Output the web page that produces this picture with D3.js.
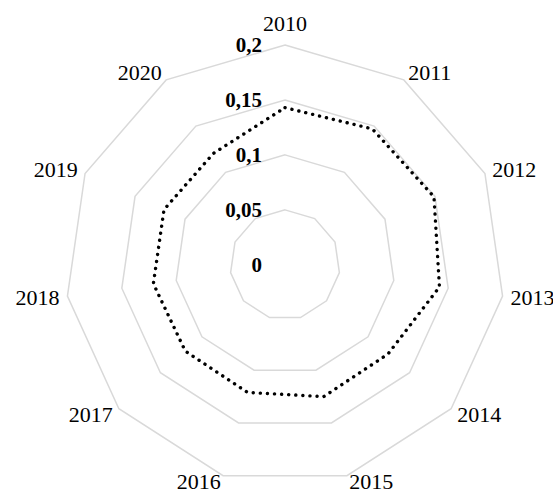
<!DOCTYPE html>
<html>
<head>
<meta charset="utf-8">
<script src="https://cdn.jsdelivr.net/npm/d3@7"></script>
<style>
  body { margin: 0; background: #fff; }
  svg { display: block; }
</style>
</head>
<body>
<script>

// data
var years = ["2010", "2011", "2012", "2013", "2014", "2015", "2016", "2017", "2018", "2019", "2020"];
var values = [0.143, 0.147, 0.149, 0.142, 0.124, 0.125, 0.121, 0.120, 0.121, 0.121, 0.1205];
var tickValues = [0, 0.05, 0.1, 0.15, 0.2];
var tickLabels = ["0", "0,05", "0,1", "0,15", "0,2"];

var width = 553, height = 494;
var cx = 285, cy = 264.8, radius = 219.8;

var svg = d3.select("body")
	.append("svg")
	.attr("width", width)
	.attr("height", height);

var rScale = d3.scaleLinear()
	.domain([0, 0.2])
	.range([0, radius]);

var angle = d3.scalePoint()
	.domain(years)
	.range([0, 2 * Math.PI * (years.length - 1) / years.length]);

var g = svg.append("g")
	.attr("transform", "translate(" + cx + "," + cy + ")");

// polar helper, angle measured clockwise from the top
function pt(a, r){
	return [r * Math.sin(a), -r * Math.cos(a)];
}

var ringLine = d3.line().curve(d3.curveLinearClosed);

// grid rings (no ring at 0)
g.selectAll(".ring")
	.data(tickValues.filter(function(v){ return v > 0; }))
	.enter()
	.append("path")
	.attr("class", "ring")
	.attr("d", function(v){
		return ringLine(years.map(function(y){ return pt(angle(y), rScale(v)); }));
	})
	.attr("fill", "none")
	.attr("stroke", "#d9d9d9")
	.attr("stroke-width", 1.5);

// data line, round dots
g.append("path")
	.datum(values)
	.attr("d", function(d){
		return ringLine(d.map(function(v, i){ return pt(angle(years[i]), rScale(v)); }));
	})
	.attr("fill", "none")
	.attr("stroke", "#000")
	.attr("stroke-width", 3.4)
	.attr("stroke-linecap", "round")
	.attr("stroke-dasharray", "0.1,7");

// value labels along the top spoke
g.selectAll(".tick")
	.data(tickValues)
	.enter()
	.append("text")
	.attr("class", "tick")
	.attr("x", -23)
	.attr("y", function(v){ return -rScale(v); })
	.attr("dy", "0.34em")
	.attr("text-anchor", "end")
	.style("font-family", "'Liberation Serif', 'Times New Roman', serif")
	.style("font-size", "21px")
	.style("font-weight", "bold")
	.attr("fill", "#000")
	.text(function(v, i){ return tickLabels[i]; });

// category labels just outside each outer vertex
g.selectAll(".cat")
	.data(years)
	.enter()
	.append("text")
	.attr("class", "cat")
	.attr("x", function(y){
		var a = angle(y);
		return pt(a, radius)[0] + 8 * Math.sin(a);
	})
	.attr("y", function(y){
		var a = angle(y);
		var p = pt(a, radius);
		var c = Math.cos(a);
		if(Math.abs(Math.sin(a)) < 0.1){
			return p[1] - 21;
		}
		// bottom pair sits a bit tighter so it stays inside the frame
		return p[1] - (c < -0.9 ? 6 : 9) * c;
	})
	.attr("dy", "0.34em")
	.attr("text-anchor", function(y){
		var s = Math.sin(angle(y));
		if(Math.abs(s) < 0.1){
			return "middle";
		} else if(s > 0){
			return "start";
		} else {
			return "end";
		}
	})
	.style("font-family", "'Liberation Serif', 'Times New Roman', serif")
	.style("font-size", "22px")
	.attr("fill", "#000")
	.text(function(y){ return y; });

</script>
</body>
</html>
